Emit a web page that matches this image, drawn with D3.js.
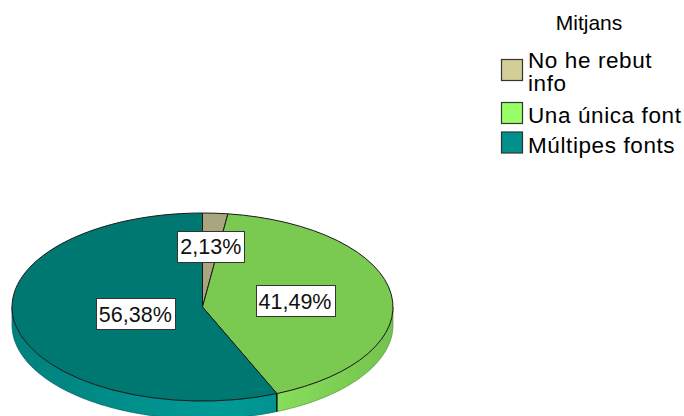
<!DOCTYPE html>
<html><head><meta charset="utf-8">
<script src="https://cdn.jsdelivr.net/npm/d3@7"></script>
<style>
html,body{margin:0;padding:0;background:#fff;}
svg{display:block;}
</style></head>
<body>
<script>
// ---- data ----
const categories = ["No he rebut info", "Una única font", "Múltipes fonts"];
const values = [2.13, 41.49, 56.38];
const valueLabels = ["2,13%", "41,49%", "56,38%"];
const legendTitle = "Mitjans";
const legendLines = [["No he rebut", "info"], ["Una única font"], ["Múltipes fonts"]];
const legendColors = ["#d3ce98", "#99ff66", "#008f8c"];

// ---- layout ----
const W = 684, H = 416;
const FONT = "'Liberation Sans', Arimo, Arial, sans-serif";
const cx = 202.5, cy = 307, rx = 190.5, ry = 94, depth = 18;
const labelR = [0.65, 0.49, 0.36];

const topColors = ["#a9a57e", "#7aca52", "#007872"];
const sideDark = ["#a9a57e", "#74c24e", "#00807c"];
const sideLight = ["#c8c494", "#90ea62", "#009b97"];

const svg = d3.select("body").append("svg").attr("width", W).attr("height", H)
  .attr("font-family", FONT);
const defs = svg.append("defs");

const pie = d3.pie().sort(null).value(d => d)(values);

function pt(a, dy) { return [cx + rx * Math.sin(a), cy - ry * Math.cos(a) + (dy || 0)]; }
function arcPts(a0, a1, dy) {
  const n = Math.max(2, Math.ceil(Math.abs(a1 - a0) / 0.02));
  return d3.range(n + 1).map(i => pt(a0 + (a1 - a0) * i / n, dy));
}

// side gradients
legendColors.forEach((c, i) => {
  const g = defs.append("linearGradient").attr("id", "sg" + i)
    .attr("gradientUnits", "userSpaceOnUse")
    .attr("x1", cx - rx).attr("x2", cx + rx).attr("y1", 0).attr("y2", 0);
  g.append("stop").attr("offset", 0).attr("stop-color", sideDark[i]);
  g.append("stop").attr("offset", 0.55).attr("stop-color", sideLight[i]);
  g.append("stop").attr("offset", 1).attr("stop-color", sideDark[i]);
});

// sides
const line = d3.line();
pie.forEach((s, i) => {
  const a0 = Math.max(s.startAngle, Math.PI / 2), a1 = Math.min(s.endAngle, 3 * Math.PI / 2);
  if (a0 >= a1) return;
  const pts = arcPts(a0, a1, 0).concat(arcPts(a1, a0, depth));
  svg.append("path").attr("d", line(pts) + "Z")
    .attr("fill", `url(#sg${i})`).attr("stroke", d3.rgb(sideDark[i]).darker(0.8)).attr("stroke-width", 0.7);
});
pie.forEach(s => {
  const a = s.startAngle;
  if (a > Math.PI / 2 && a < 3 * Math.PI / 2) {
    svg.append("path").attr("d", line([pt(a, 0), pt(a, depth)])).attr("stroke", "#000").attr("stroke-width", 1.2);
  }
});

// tops
const arc = d3.arc().innerRadius(0).outerRadius(rx);
const topG = svg.append("g").attr("transform", `translate(${cx},${cy}) scale(1,${ry / rx})`);
topG.selectAll("path").data(pie).join("path")
  .attr("d", arc)
  .attr("fill", (d, i) => topColors[i])
  .attr("stroke", "#1a1a1a").attr("stroke-width", 1)
  .attr("vector-effect", "non-scaling-stroke");

// labels
pie.forEach((s, i) => {
  const m = (s.startAngle + s.endAngle) / 2;
  const x = cx + rx * labelR[i] * Math.sin(m), y = cy - ry * labelR[i] * Math.cos(m);
  const g = svg.append("g");
  const t = g.append("text").attr("x", x).attr("y", y + 8).attr("text-anchor", "middle")
    .attr("font-size", 21.5).attr("fill", "#111")
    .text(valueLabels[i]);
  const bb = t.node().getBBox();
  g.insert("rect", "text").attr("x", Math.round(bb.x - 3) + 0.5).attr("y", Math.round(y - 15.5) + 0.5)
    .attr("width", Math.round(bb.width + 6)).attr("height", 31)
    .attr("fill", "#fff").attr("stroke", "#333").attr("stroke-width", 1);
});

// legend
svg.append("text").attr("x", 589).attr("y", 30).attr("text-anchor", "middle")
  .attr("font-size", 21).attr("fill", "#000").text(legendTitle);
const rowY = [59, 102, 131.5];
legendLines.forEach((lines, i) => {
  svg.append("rect").attr("x", 501.5).attr("y", rowY[i] + 0.5).attr("width", 21).attr("height", 21)
    .attr("fill", legendColors[i]).attr("stroke", "#333").attr("stroke-width", 1.2);
  lines.forEach((l, j) => {
    svg.append("text").attr("x", 528).attr("y", rowY[i] + 9 + j * 22.6 + (lines.length === 1 ? 12 : 0))
      .attr("font-size", 22.5).attr("letter-spacing", 0.6).attr("fill", "#000").text(l);
  });
});
</script>
</body></html>
